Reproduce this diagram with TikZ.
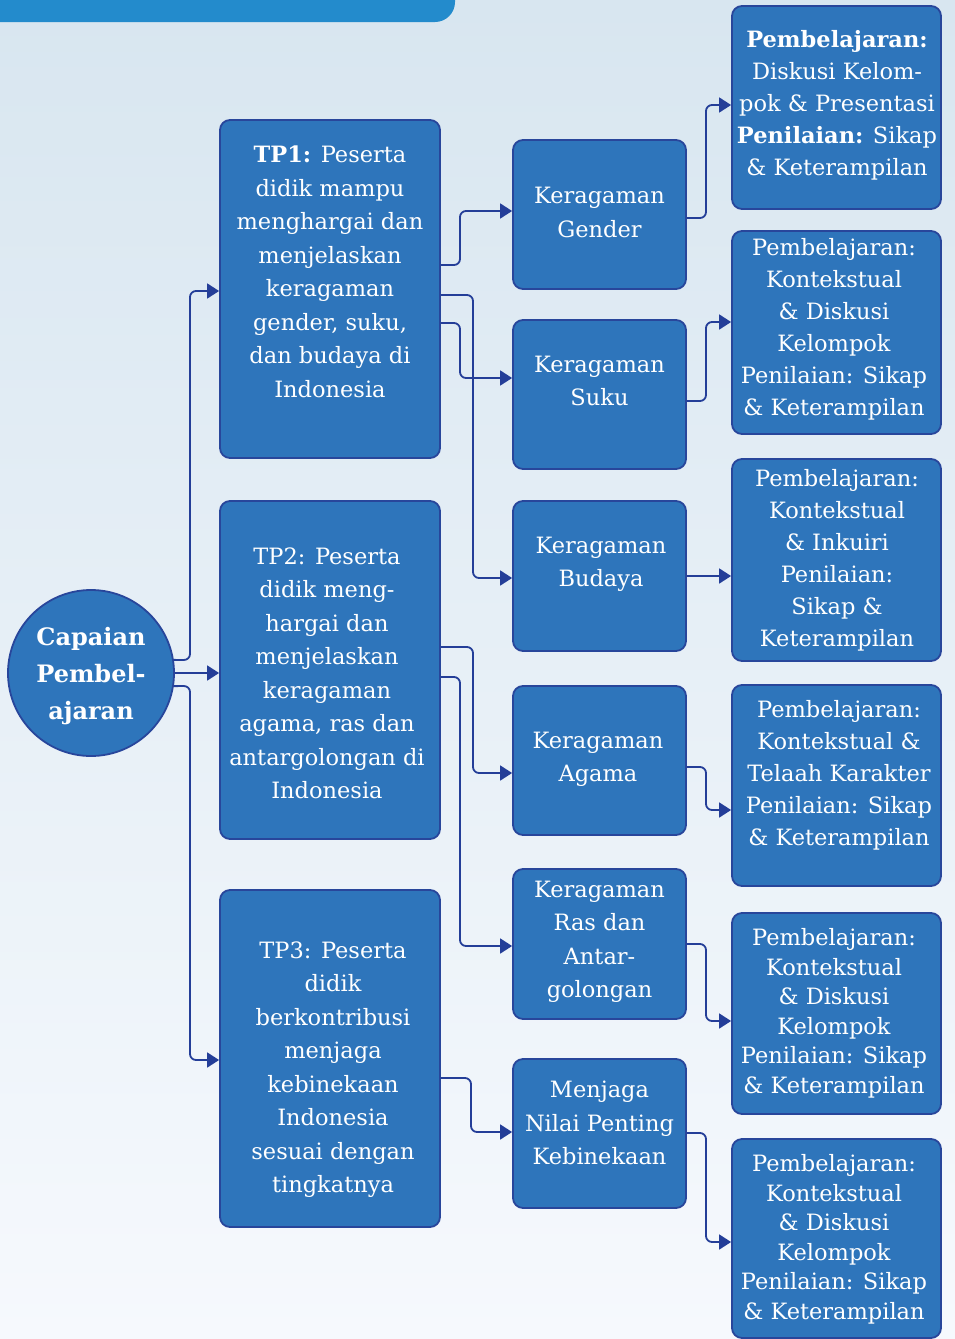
\documentclass[tikz,border=0pt]{standalone}
\usepackage{fontspec}
\setmainfont{DejaVu Serif}
\usetikzlibrary{arrows.meta}
\definecolor{boxfill}{RGB}{46,117,187}
\definecolor{boxline}{RGB}{40,70,155}
\definecolor{linec}{RGB}{36,62,152}
\definecolor{banner}{RGB}{35,139,204}
\definecolor{bgtop}{RGB}{216,230,240}
\definecolor{bgbot}{RGB}{246,249,253}
\begin{document}
\begin{tikzpicture}[x=1pt,y=-1pt,
  box/.style={draw=boxline, fill=boxfill, line width=1.8pt, rounded corners=10pt, inner sep=0pt},
  txt/.style={text=white, align=center, inner sep=0pt, font=\fontsize{22.5}{33.5}\selectfont},
  rtxt/.style={text=white, align=center, inner sep=0pt, font=\fontsize{22.5}{32}\selectfont},
  rtxtb/.style={text=white, align=center, inner sep=0pt, font=\fontsize{22.5}{29.5}\selectfont},
  conn/.style={draw=linec, line width=1.8pt, rounded corners=6pt, -{Triangle[length=12pt,width=15pt]}}]
\useasboundingbox (0,0) rectangle (955,1339);
\shade[top color=bgtop, bottom color=bgbot] (0,0) rectangle (955,1339);
\fill[banner, rounded corners=20pt] (-30,-40) rectangle (455,22);

% circle
\node[circle, draw=boxline, fill=boxfill, line width=1.8pt, minimum size=166pt, inner sep=0pt] (cp) at (91,673) {};
\node[text=white, align=center, inner sep=0pt, font=\fontsize{24}{37}\selectfont\bfseries] (cpt) at (91,676.5) {Capaian\\Pembel-\\ajaran};

% TP boxes
\node[box, minimum width=220pt, minimum height=338pt] (tp1) at (330,289) {};
\node[box, minimum width=220pt, minimum height=338pt] (tp2) at (330,670) {};
\node[box, minimum width=220pt, minimum height=337pt] (tp3) at (330,1058.5) {};
\node[txt] (tp1t) at (330,272) {\textbf{TP1:} Peserta\\didik mampu\\menghargai dan\\menjelaskan\\keragaman\\gender, suku,\\dan budaya di\\Indonesia};
\node[txt] (tp2t) at (327,673.5) {TP2: Peserta\\didik meng-\\hargai dan\\menjelaskan\\keragaman\\agama, ras dan\\antargolongan di\\Indonesia};
\node[txt] (tp3t) at (333,1069.5) {TP3: Peserta\\didik\\berkontribusi\\menjaga\\kebinekaan\\Indonesia\\sesuai dengan\\tingkatnya};

% middle boxes
\node[box, minimum width=173pt, minimum height=149pt] (gen) at (599.5,214.5) {};
\node[box, minimum width=173pt, minimum height=149pt] (suku) at (599.5,394.5) {};
\node[box, minimum width=173pt, minimum height=150pt] (bud) at (599.5,576) {};
\node[box, minimum width=173pt, minimum height=149pt] (aga) at (599.5,760.5) {};
\node[box, minimum width=173pt, minimum height=150pt] (ras) at (599.5,944) {};
\node[box, minimum width=173pt, minimum height=149pt] (men) at (599.5,1133.5) {};
\node[txt] (gent) at (599.5,212.5) {Keragaman\\Gender};
\node[txt] (sukut) at (599.5,381) {Keragaman\\Suku};
\node[txt] (budt) at (601,564.5) {Keragaman\\Budaya};
\node[txt] (agat) at (598,759.5) {Keragaman\\Agama};
\node[txt] (rast) at (599.5,942) {Keragaman\\Ras dan\\Antar-\\golongan};
\node[txt] (ment) at (599.5,1123) {Menjaga\\Nilai Penting\\Kebinekaan};

% right boxes
\node[box, minimum width=209pt, minimum height=203pt] (r1) at (836.5,107.5) {};
\node[box, minimum width=209pt, minimum height=203pt] (r2) at (836.5,332.5) {};
\node[box, minimum width=209pt, minimum height=202pt] (r3) at (836.5,560) {};
\node[box, minimum width=209pt, minimum height=201pt] (r4) at (836.5,785.5) {};
\node[box, minimum width=209pt, minimum height=201pt] (r5) at (836.5,1013.5) {};
\node[box, minimum width=209pt, minimum height=199pt] (r6) at (836.5,1238.5) {};
\node[rtxt] (r1t) at (837,105) {\textbf{Pembelajaran:}\\Diskusi Kelom-\\pok \& Presentasi\\\textbf{Penilaian:} Sikap\\\& Keterampilan};
\node[rtxt] (r2t) at (834,329) {Pembelajaran:\\Kontekstual\\\& Diskusi\\Kelompok\\Penilaian: Sikap\\\& Keterampilan};
\node[rtxt] (r3t) at (837,560) {Pembelajaran:\\Kontekstual\\\& Inkuiri\\Penilaian:\\Sikap \&\\Keterampilan};
\node[rtxt] (r4t) at (839,775) {Pembelajaran:\\Kontekstual \&\\Telaah Karakter\\Penilaian: Sikap\\\& Keterampilan};
\node[rtxtb] (r5t) at (834,1013.5) {Pembelajaran:\\Kontekstual\\\& Diskusi\\Kelompok\\Penilaian: Sikap\\\& Keterampilan};
\node[rtxtb] (r6t) at (834,1239.5) {Pembelajaran:\\Kontekstual\\\& Diskusi\\Kelompok\\Penilaian: Sikap\\\& Keterampilan};

% connectors: circle to TPs
\draw[conn] (cp.9) -- (190,660) -- (190,291) -- (tp1.west |- 0,291);
\draw[conn] (cp.east) -- (tp2.west |- cp.east);
\draw[conn] (cp.-9) -- (190,686) -- (190,1060) -- (tp3.west |- 0,1060);

% TPs to middle
\draw[conn] (tp1.east |- 0,265) -- (460,265) -- (460,211) -- (gen.west |- 0,211);
\draw[conn] (tp1.east |- 0,295) -- (473,295) -- (473,578) -- (bud.west |- 0,578);
\draw[conn] (tp1.east |- 0,323) -- (460,323) -- (460,378) -- (suku.west |- 0,378);
\draw[conn] (tp2.east |- 0,647) -- (473,647) -- (473,773) -- (aga.west |- 0,773);
\draw[conn] (tp2.east |- 0,677) -- (460,677) -- (460,946) -- (ras.west |- 0,946);
\draw[conn] (tp3.east |- 0,1078) -- (471,1078) -- (471,1132) -- (men.west |- 0,1132);

% middle to right
\draw[conn] (gen.east |- 0,218) -- (706,218) -- (706,105) -- (r1.west |- 0,105);
\draw[conn] (suku.east |- 0,401) -- (706,401) -- (706,322) -- (r2.west |- 0,322);
\draw[conn] (bud.east |- 0,576) -- (r3.west |- 0,576);
\draw[conn] (aga.east |- 0,767) -- (706,767) -- (706,810) -- (r4.west |- 0,810);
\draw[conn] (ras.east |- 0,944) -- (706,944) -- (706,1021) -- (r5.west |- 0,1021);
\draw[conn] (men.east |- 0,1133) -- (706,1133) -- (706,1242) -- (r6.west |- 0,1242);
\end{tikzpicture}
\end{document}
